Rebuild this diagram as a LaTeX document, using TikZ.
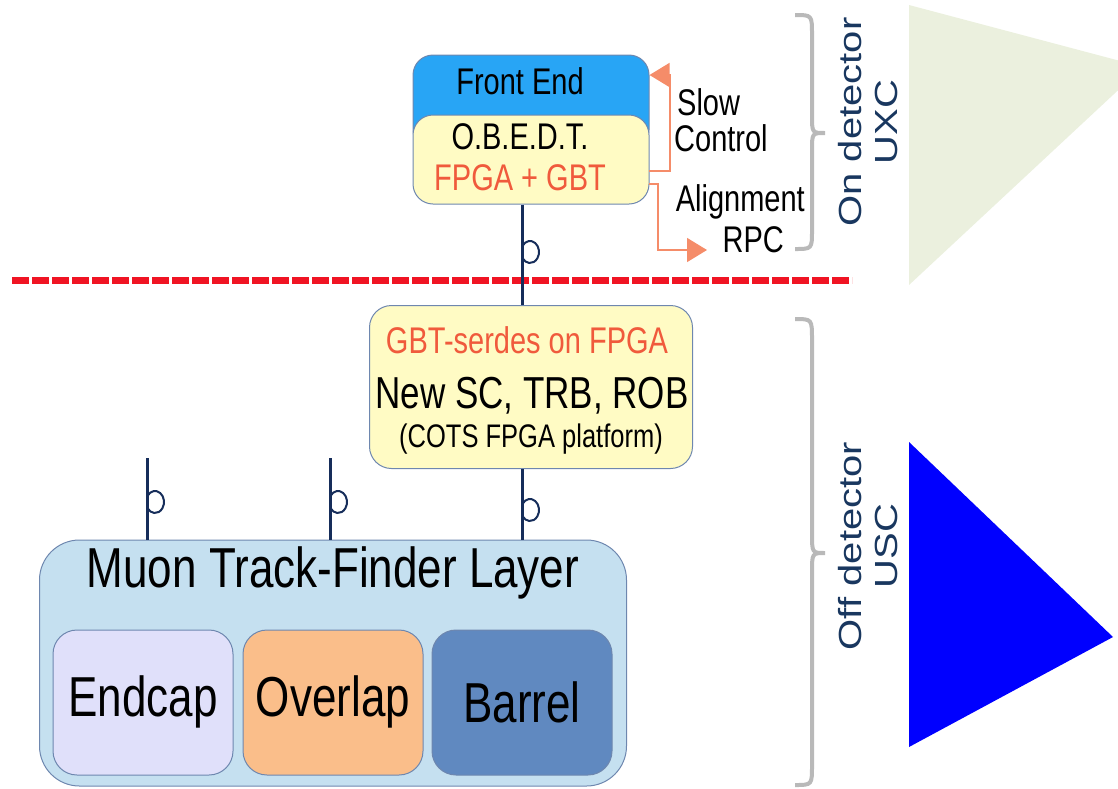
\documentclass[tikz,border=0pt]{standalone}
\usepackage{fontspec}
\usepackage{graphicx}
\setmainfont{Liberation Sans}
\usetikzlibrary{arrows.meta}
\definecolor{feblue}{RGB}{40,165,245}
\definecolor{boxyellow}{RGB}{255,251,196}
\definecolor{boxborder}{RGB}{110,135,175}
\definecolor{redtxt}{RGB}{240,90,60}
\definecolor{dashred}{RGB}{240,20,35}
\definecolor{navy}{RGB}{22,45,90}
\definecolor{salmon}{RGB}{245,140,105}
\definecolor{bracegray}{RGB}{185,185,185}
\definecolor{sidetxt}{RGB}{25,55,95}
\definecolor{trigreen}{RGB}{235,240,222}
\definecolor{muonfill}{RGB}{197,224,240}
\definecolor{endcapfill}{RGB}{224,224,250}
\definecolor{overlapfill}{RGB}{250,190,138}
\definecolor{barrelfill}{RGB}{96,137,192}
\newcommand{\vstr}[1]{\scalebox{1}[1.28]{#1}}
\newcommand{\hstr}[1]{\scalebox{1.25}[1]{#1}}
\begin{document}
\begin{tikzpicture}[x=1pt,y=-1pt,
  box/.style={draw=boxborder,line width=1pt,rectangle,inner sep=0pt},
  txt/.style={inner sep=0pt,anchor=center,text=black},
  f29/.style={font=\fontsize{29}{34}\selectfont},
  f26/.style={font=\fontsize{25.5}{30}\selectfont},
  f35/.style={font=\fontsize{35}{40}\selectfont},
  f44/.style={font=\fontsize{44}{50}\selectfont},
  link/.style={draw=navy,line width=3pt},
  loop/.style={draw=navy,line width=2pt},
  sig/.style={draw=salmon,line width=1.5pt,-{Triangle[length=20pt,width=24pt,fill=salmon]}},
  bracepath/.style={draw=bracegray,line width=4pt},
  side/.style={inner sep=0pt,anchor=center,text=sidetxt,rotate=90,font=\fontsize{32}{36}\selectfont}
]
\useasboundingbox (0,0) rectangle (1118,788);
% triangles
\begin{scope}
\clip (0,0) rectangle (1118,788);
\fill[trigreen] (909,5) -- (1143,67) -- (909,285) -- cycle;
\end{scope}
\fill[blue] (909,442) -- (1113,637) -- (909,747) -- cycle;

% red dashed separator
\draw[dashred,line width=7pt,dash pattern=on 17pt off 3pt] (12,280) -- (852,280);

% front end box
\node[box,fill=feblue,rounded corners=20pt,minimum width=236pt,minimum height=95pt] (fe) at (531,102.5) {};
\node[box,fill=boxyellow,rounded corners=20pt,minimum width=236pt,minimum height=89pt] (obedt) at (531,159.5) {};
\node[txt,f29] (tfe) at (520,81) {\vstr{Front End}};
\node[txt,f29] (tob) at (520,137) {\vstr{O.B.E.D.T.}};
\node[txt,f29,text=redtxt] (tfg) at (520,178) {\vstr{FPGA + GBT}};

% GBT box
\node[box,fill=boxyellow,rounded corners=22pt,minimum width=323pt,minimum height=163pt] (gbt) at (531,387) {};
\node[txt,f29,text=redtxt] (tgs) at (527,340) {\vstr{GBT-serdes on FPGA}};
\node[txt,f35] (tns) at (532,396) {\vstr{New SC, TRB, ROB}};
\node[txt,f26] (tco) at (531,439) {\vstr{(COTS FPGA platform)}};

% Muon box
\node[box,fill=muonfill,rounded corners=40pt,minimum width=587pt,minimum height=246pt] (muon) at (333,663) {};
\node[txt,f44] (tmu) at (333,573) {\vstr{Muon Track-Finder Layer}};
\node[box,fill=endcapfill,rounded corners=24pt,minimum width=180pt,minimum height=145pt] (endcap) at (143,702.5) {};
\node[box,fill=overlapfill,rounded corners=24pt,minimum width=180pt,minimum height=145pt] (overlap) at (333,702.5) {};
\node[box,fill=barrelfill,rounded corners=24pt,minimum width=180pt,minimum height=145pt] (barrel) at (522,702.5) {};
\node[txt,f44] (ten) at (143,702) {\vstr{Endcap}};
\node[txt,f44] (tov) at (333,702) {\vstr{Overlap}};
\node[txt,f44] (tba) at (522,702) {\vstr{Barrel}};

% links
\coordinate (lx) at (522,0);
\coordinate (la) at (147,458);
\coordinate (lb) at (330,458);
\draw[link] (obedt.south -| lx) -- (gbt.north -| lx);
\draw[link] (gbt.south -| lx) -- (muon.north -| lx);
\draw[link] (la) -- (muon.north -| la);
\draw[link] (lb) -- (muon.north -| lb);
% loops: ellipse centre 8 right of the line, radii 9 x 11
\foreach \lxp/\lyp in {522/252, 522/510, 147/502, 330/502}{
  \draw[loop] ({\lxp+8-9*cos(35)},{\lyp-11*sin(35)}) arc[start angle=145,end angle=-145,x radius=9pt,y radius=11pt];
}

% signal arrows
\coordinate (sc0) at (649,171);
\coordinate (sc1) at (670,171);
\coordinate (sc2) at (670,75);
\coordinate (al0) at (649,184);
\coordinate (al1) at (658,184);
\coordinate (al2) at (658,250);
\coordinate (al3) at (707,250);
\draw[sig] (sc0) -- (sc1) -- (sc2) -- (fe.east |- sc2);
\draw[sig] (al0) -- (al1) -- (al2) -- (al3);
\node[txt,f29,anchor=west] (tslow) at (677,102) {\vstr{Slow}};
\node[txt,f29,anchor=west] (tctrl) at (674,138) {\vstr{Control}};
\node[txt,f29,anchor=east] (talign) at (805,202) {\vstr{Alignment}};
\node[txt,f29,anchor=east] (trpc) at (784,240) {\vstr{RPC}};

% braces
\draw[bracepath] (795,15) .. controls (812,15) .. (812,35) -- (812,115) .. controls (812,133) .. (825,133) .. controls (812,133) .. (812,151) -- (812,230) .. controls (812,249) .. (795,249);
\draw[bracepath] (795,319) .. controls (812,319) .. (812,340) -- (812,533) .. controls (812,553) .. (825,553) .. controls (812,553) .. (812,573) -- (812,765) .. controls (812,785) .. (795,785);

% side labels
\node[side] (on) at (872,122) {\hstr{\begin{tabular}{@{}c@{}}On detector\\UXC\end{tabular}}};
\node[side] (off) at (872,546) {\hstr{\begin{tabular}{@{}c@{}}Off detector\\USC\end{tabular}}};
\end{tikzpicture}
\end{document}
